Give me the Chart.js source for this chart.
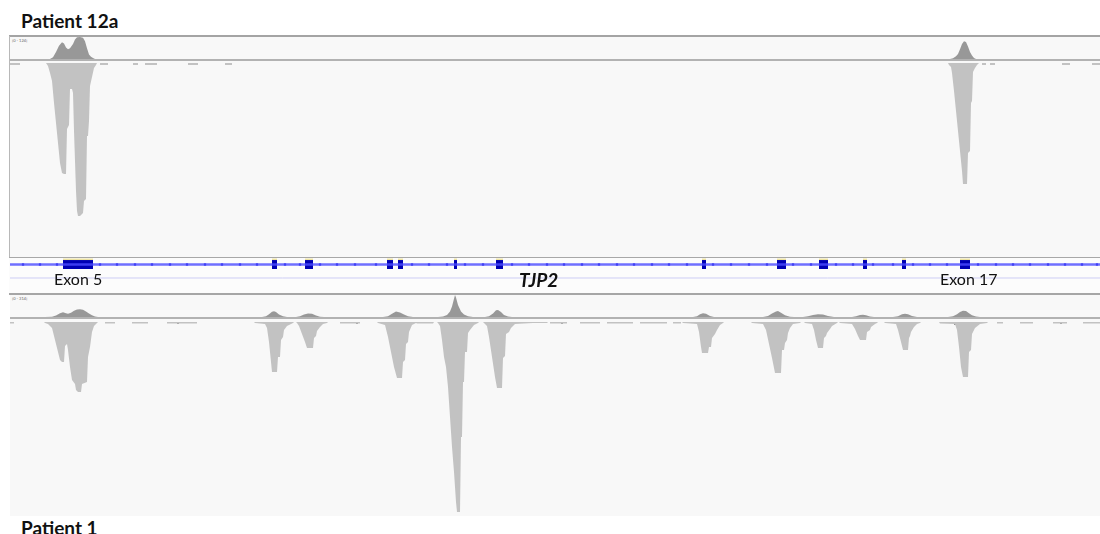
<!DOCTYPE html>
<html><head><meta charset="utf-8">
<script src="https://cdn.jsdelivr.net/npm/chart.js@4.4.1/dist/chart.umd.min.js"></script>
<style>
html,body{margin:0;padding:0;background:#fff;width:1100px;height:534px;overflow:hidden;position:relative;font-family:Lato,"Open Sans",sans-serif}
.abs{position:absolute}
.lbl{position:absolute;white-space:nowrap;color:#111}
canvas{position:absolute;display:block}
</style></head><body>

<div class="lbl" id="title12a" style="left:21px;top:11px;font:700 19px/19px Lato,sans-serif">Patient 12a</div>

<!-- patient 12a panel -->
<div class="abs" style="left:9px;top:36px;width:1091px;height:222px;background:#f8f8f8"></div>
<div class="abs" style="left:9px;top:35px;width:1091px;height:2px;background:#a4a4a4"></div>
<div class="abs" style="left:9px;top:36px;width:1px;height:222px;background:#b8b8b8"></div>
<div class="abs" style="left:10px;top:59px;width:1090px;height:2px;background:#b2b2b2"></div>
<div class="lbl" id="scale12a" style="left:12px;top:38px;font:4px/5px Lato,sans-serif;color:#666">[0 - 124]</div>
<canvas id="cov12a" width="1090" height="22" style="left:10px;top:37px"></canvas>
<canvas id="reads12a" width="1090" height="195" style="left:10px;top:63px"></canvas>

<!-- gene track -->
<div class="abs" style="left:9px;top:257px;width:1091px;height:37px;background:#fcfcfc"></div>
<div class="abs" style="left:9px;top:257px;width:1091px;height:1px;background:#a8a8a8"></div>
<canvas id="gene" width="1090" height="35" style="left:10px;top:258px"></canvas>
<div class="lbl" style="left:54px;top:271px;font:400 16px/16px Lato,sans-serif">Exon 5</div>
<div class="lbl" style="left:519px;top:270px;font:italic 700 19px/19px Lato,sans-serif">TJP2</div>
<div class="lbl" style="left:940px;top:271px;font:400 16px/16px Lato,sans-serif">Exon 17</div>
<div class="abs" style="left:9px;top:293px;width:1091px;height:2px;background:#a6a6a6"></div>

<!-- patient 1 panel -->
<div class="abs" style="left:10px;top:295px;width:1090px;height:221px;background:#f8f8f8"></div>
<div class="abs" style="left:10px;top:317px;width:1090px;height:2px;background:#b2b2b2"></div>
<div class="lbl" id="scale1" style="left:12px;top:296px;font:4px/5px Lato,sans-serif;color:#666">[0 - 314]</div>
<canvas id="cov1" width="1090" height="22" style="left:10px;top:295px"></canvas>
<canvas id="reads1" width="1090" height="194" style="left:10px;top:322px"></canvas>

<div class="lbl" id="title1" style="left:21px;top:518px;font:700 19px/19px Lato,sans-serif">Patient 1</div>

<script>
// ---------- DATA ----------
const viewRange = [10, 1100];            // genomic view (screen-position units)
const p12aCoverageMax = 124;
const p1CoverageMax = 314;

// coverage tracks: [position, depth]
const p12aCoverage = [[10,0],[50,0],[53,10],[56,40],[59,75],[62,95],[64,88],[66,65],[68,55],[70,60],[73,85],[75,110],[77,122],[80,124],[83,120],[85,100],[87,60],[89,25],[91,12],[93,5],[95,0],
  [950,0],[953,4],[956,15],[958,28],[960,55],[962,85],[964,100],[966,96],[968,70],[970,40],[972,20],[974,6],[976,0],[1100,0]];

const p1Coverage = [[10,0],[45,0],[52,2],[56,20],[60,55],[63,68],[66,55],[68,45],[71,60],[74,90],[77,108],[80,112],[83,105],[86,80],[89,50],[92,25],[95,8],[98,0],
  [262,0],[266,10],[269,40],[272,75],[274,82],[276,70],[279,35],[283,10],[287,0],
  [296,0],[300,10],[304,35],[308,50],[312,45],[316,20],[320,5],[324,0],
  [383,0],[388,12],[392,45],[396,80],[400,65],[404,35],[408,12],[413,0],
  [438,0],[443,8],[447,30],[450,80],[452,150],[454,260],[455,314],[456,280],[458,170],[461,80],[464,35],[468,10],[473,0],
  [485,0],[489,12],[493,50],[496,95],[498,100],[501,70],[504,30],[508,8],[512,0],
  [693,0],[697,10],[700,40],[703,55],[706,45],[710,15],[714,0],
  [763,0],[768,15],[772,50],[776,80],[778,85],[781,60],[785,25],[790,5],[794,0],
  [803,0],[808,10],[813,30],[818,40],[823,35],[828,15],[834,0],
  [852,0],[856,10],[860,28],[863,32],[866,25],[870,8],[874,0],
  [893,0],[898,12],[902,38],[905,48],[908,40],[912,15],[917,0],
  [948,0],[953,12],[957,40],[960,70],[963,90],[966,85],[969,55],[972,25],[976,6],[980,0],[1100,0]];

// read pileup depth (rows) : [position, rows]
const p12aReads = [[10,0],[10,2],[20,2],[20,0],
  [46,0],[48,3],[50,10],[52,18],[54,40],[56,60],[58,80],[60,100],[62,110],[64,111],[66,111],[67,66],[69,62],[70,26],[72,26],[73,30],[74,68],[75,98],[76,128],[77,148],[78,153],[80,153],[83,150],[84,138],[86,136],[87,73],[88,73],[89,58],[90,23],[92,14],[94,5],[96,2],[97,0],
  [100,0],[100,2],[108,2],[108,0],
  [133,0],[133,2],[138,2],[138,0],
  [145,0],[145,2],[157,2],[157,0],
  [188,0],[188,2],[198,2],[198,0],
  [225,0],[225,2],[232,2],[232,0],
  [948,0],[949,2],[951,4],[952,10],[954,28],[956,48],[958,68],[960,88],[962,108],[963,121],[967,121],[968,90],[970,88],[971,40],[972,38],[973,9],[975,5],[977,2],[979,0],
  [982,0],[982,2],[986,2],[986,0],
  [990,0],[990,2],[995,2],[995,0],
  [1062,0],[1062,2],[1070,2],[1070,0],
  [1092,0],[1092,2],[1100,2]];

const p1Reads = [[10,0],[10,1.5],[14,1.5],[14,0],
  [44,0],[45,1],[48,2],[52,6],[54,14],[56,22],[58,30],[60,38],[62,40],[64,40],[65,24],[67,22],[68,28],[70,45],[72,58],[75,62],[76,68],[78,70],[81,70],[82,62],[87,60],[88,35],[90,25],[92,10],[94,4],[97,1],[98,0],
  [105,0],[105,1.5],[115,1.5],[115,0],
  [132,0],[132,1.5],[148,1.5],[148,0],
  [167,0],[167,1.5],[197,1.5],[197,0],
  [254,0],[255,1],[265,2],[267,6],[269,20],[271,40],[272,50],[277,50],[278,35],[280,35],[281,18],[283,15],[284,8],[287,4],[293,1],[294,0],
  [296,0],[297,1],[299,4],[302,12],[305,20],[307,26],[313,26],[314,16],[316,14],[317,9],[320,5],[323,2],[327,1],[328,0],
  [340,0],[340,1.5],[360,1.5],[360,0],
  [377,0],[378,1],[385,3],[388,15],[391,30],[394,45],[397,56],[402,56],[403,40],[405,38],[406,22],[408,20],[409,10],[412,3],[416,1],[417,1.5],[433,1.5],[434,0],
  [437,0],[438,1],[440,4],[442,18],[444,35],[446,45],[448,65],[450,95],[452,125],[454,150],[456,180],[457,190],[460,190],[461,115],[462,115],[463,60],[464,60],[465,30],[467,30],[468,11],[470,8],[474,3],[478,1],[479,0],
  [483,0],[484,1],[487,4],[489,15],[492,35],[495,55],[497,66],[502,66],[503,36],[505,34],[506,12],[509,10],[511,6],[515,2],[533,1],[547,1],[548,0],
  [550,0],[550,1.5],[567,1.5],[567,0],
  [580,0],[580,1.5],[600,1.5],[600,0],
  [607,0],[607,1.5],[633,1.5],[633,0],
  [640,0],[640,1.5],[667,1.5],[667,0],
  [673,0],[673,1.5],[681,1.5],[681,0],
  [682,0],[683,1],[697,2],[699,10],[701,25],[702,31],[708,31],[709,25],[711,25],[712,16],[715,12],[717,8],[720,3],[723,1],[724,0],
  [751,0],[752,1],[763,2],[766,8],[769,22],[772,36],[775,51],[781,51],[782,28],[784,28],[785,21],[787,18],[788,11],[790,6],[793,2],[800,1],[801,0],
  [804,0],[805,1],[812,2],[814,8],[816,18],[818,26],[823,26],[824,16],[826,14],[827,11],[830,7],[832,4],[837,1],[838,0],
  [839,0],[840,1],[852,2],[855,7],[858,14],[860,18],[866,18],[867,10],[870,8],[871,5],[875,2],[877,1],[878,0],
  [884,0],[885,1],[896,2],[898,8],[901,20],[903,28],[908,28],[909,16],[910,14],[911,10],[914,5],[917,2],[920,1],[921,0],
  [939,0],[940,1.5],[955,2],[957,8],[959,25],[961,45],[963,55],[968,55],[969,30],[971,28],[972,12],[975,6],[980,2],[987,1],[988,0],
  [997,0],[997,1.5],[1003,1.5],[1003,0],
  [1020,0],[1020,1.5],[1033,1.5],[1033,0],
  [1053,0],[1053,1.5],[1067,1.5],[1067,0],
  [1083,0],[1083,1.5],[1100,1.5]];

// mismatch markers in reads: [position, row]
const p12aMismatches = [[82,12]];
const p1Mismatches = [[78,58],[178,1],[357,1],[562,1],[700,3],[700,8],[955,2],[1061,1]];

// TJP2 gene model
const exonStarts = [63, 272, 305, 387, 398, 454, 496, 702, 777, 819, 863, 902, 960];
const exonEnds   = [93, 277, 313, 393, 403, 457, 503, 706, 786, 828, 867, 906, 970];
const intronMarks = [23,40,57,100,117,135,152,170,187,205,222,240,257,285,300,320,337,355,376,412,429,447,465,483,512,529,547,564,582,599,617,634,652,669,687,713,731,749,767,793,811,836,853,873,893,913,930,947,978,996,1013,1030,1048,1065,1082,1097];

// ---------- RENDER ----------
const pts = arr => arr.map(([x, y]) => ({x, y}));
function baseOptions(yMin, yMax, reverse) {
  return {
    responsive: false, animation: false, events: [],
    layout: {padding: 0, autoPadding: false},
    plugins: {legend: {display: false}, tooltip: {enabled: false}, title: {display: false}},
    elements: {point: {radius: 0}, line: {tension: 0}},
    scales: {
      x: {type: 'linear', min: viewRange[0], max: viewRange[1], display: false},
      y: {type: 'linear', min: yMin, max: yMax, reverse: reverse, display: false}
    }
  };
}
function areaDataset(data, color) {
  return {type: 'line', data: pts(data), fill: 'origin', backgroundColor: color,
          borderColor: 'rgba(0,0,0,0)', borderWidth: 0, pointRadius: 0, tension: 0};
}
function markDataset(data, color, r) {
  return {type: 'scatter', data: pts(data), pointRadius: r, pointStyle: 'rect',
          backgroundColor: color, borderWidth: 0};
}

const covColor = '#989898';
const readColor = '#c2c2c2';

new Chart(document.getElementById('cov12a'), {
  type: 'line', data: {datasets: [areaDataset(p12aCoverage, covColor)]},
  options: baseOptions(0, p12aCoverageMax, false)
});
new Chart(document.getElementById('reads12a'), {
  type: 'line', data: {datasets: [areaDataset(p12aReads, readColor), markDataset(p12aMismatches, '#555', 1)]},
  options: baseOptions(0, 195, true)
});
new Chart(document.getElementById('cov1'), {
  type: 'line', data: {datasets: [areaDataset(p1Coverage, covColor)]},
  options: baseOptions(0, p1CoverageMax, false)
});
new Chart(document.getElementById('reads1'), {
  type: 'line', data: {datasets: [areaDataset(p1Reads, readColor), markDataset(p1Mismatches, '#444', 1)]},
  options: baseOptions(0, 194, true)
});

// gene track (y in track rows from the top)
const geneSets = [];
geneSets.push({type: 'line', data: [{x: viewRange[0], y: 6.5}, {x: viewRange[1], y: 6.5}],
  borderColor: 'rgba(75,75,255,0.8)', borderWidth: 2.5, pointRadius: 0, fill: false});
geneSets.push({type: 'line', data: [{x: viewRange[0], y: 20}, {x: viewRange[1], y: 20}],
  borderColor: '#cdcdf5', borderWidth: 1, pointRadius: 0, fill: false});
geneSets.push({type: 'scatter', data: intronMarks.map(x => ({x, y: 6.5})), pointStyle: 'rect',
  pointRadius: 1.6, backgroundColor: '#1818d8', borderWidth: 0});
exonStarts.forEach((s, i) => {
  geneSets.push({type: 'line', data: [{x: s, y: 1.3}, {x: exonEnds[i], y: 1.3}],
    borderColor: '#ece3a2', borderWidth: 1.5, borderCapStyle: 'butt', pointRadius: 0, fill: false});
  geneSets.push({type: 'line', data: [{x: s, y: 6.5}, {x: exonEnds[i], y: 6.5}],
    borderColor: '#0000b4', borderWidth: 9, borderCapStyle: 'butt', pointRadius: 0, fill: false});
});
new Chart(document.getElementById('gene'), {
  type: 'line', data: {datasets: geneSets},
  options: baseOptions(0, 35, true)
});
</script>
</body></html>
